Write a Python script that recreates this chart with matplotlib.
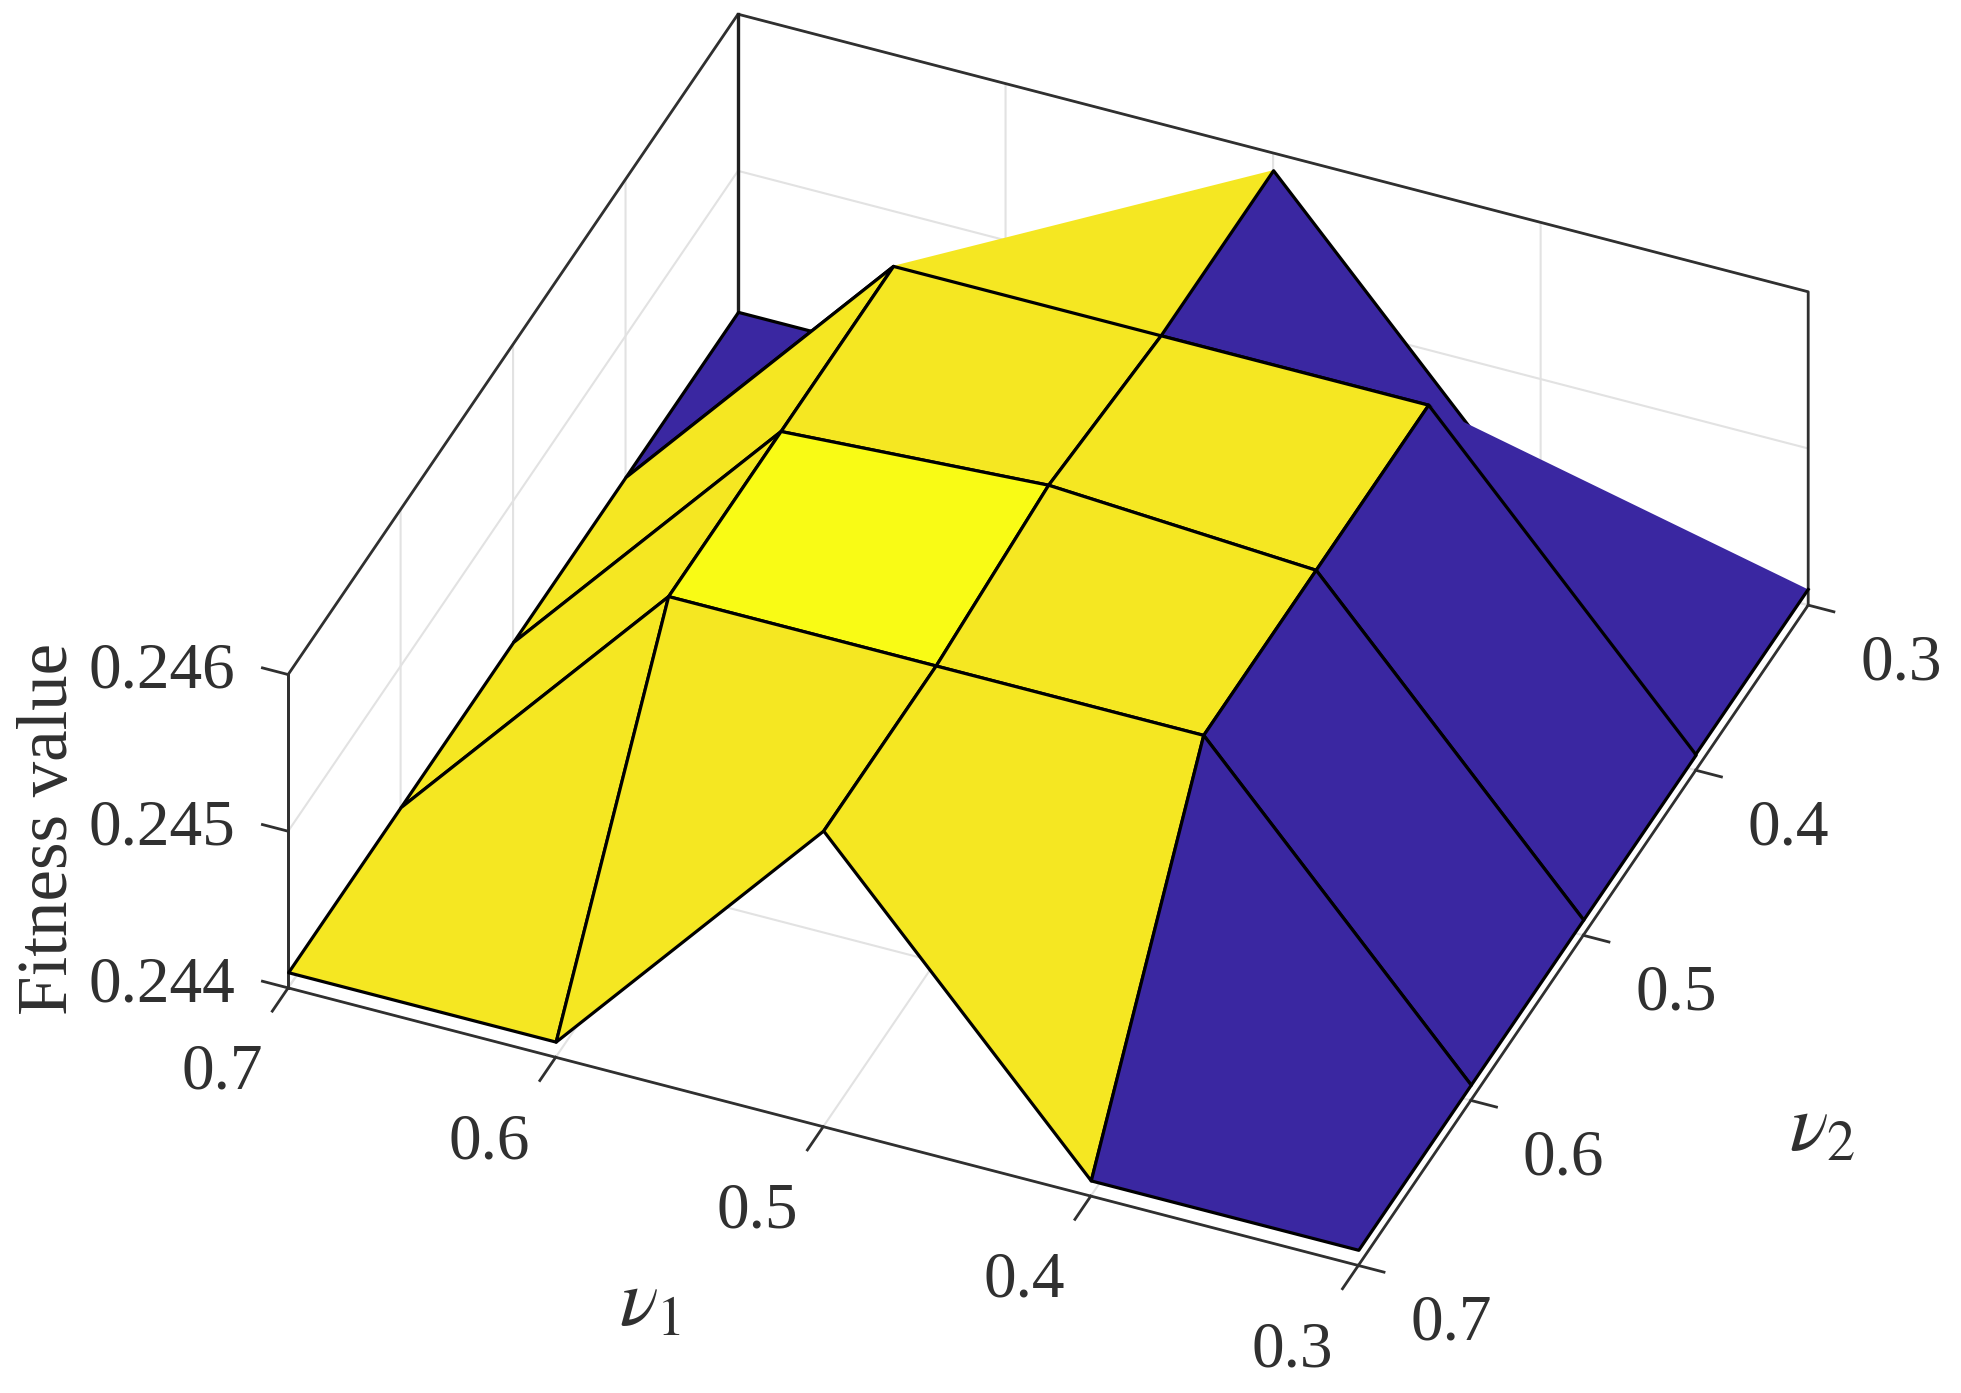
import matplotlib
matplotlib.use('Agg')
import numpy as np
import matplotlib.pyplot as plt
from matplotlib.colors import LinearSegmentedColormap, Normalize
from mpl_toolkits.mplot3d import Axes3D
from mpl_toolkits.mplot3d.art3d import Poly3DCollection

nu1 = [0.3, 0.4, 0.5, 0.6, 0.7]
nu2 = [0.3, 0.4, 0.5, 0.6, 0.7]

# one row per nu2 value, columns follow nu1
fitness_nu2_03 = [0.24410, 0.24410, 0.24589, 0.24410, 0.24410]
fitness_nu2_04 = [0.24410, 0.24589, 0.24589, 0.24589, 0.24410]
fitness_nu2_05 = [0.24410, 0.24589, 0.24599, 0.24589, 0.24410]
fitness_nu2_06 = [0.24410, 0.24589, 0.24589, 0.24589, 0.24410]
fitness_nu2_07 = [0.24410, 0.24410, 0.24589, 0.24410, 0.24410]
fitness = [fitness_nu2_03, fitness_nu2_04, fitness_nu2_05, fitness_nu2_06, fitness_nu2_07]

nu_ticks = [0.3, 0.4, 0.5, 0.6, 0.7]
nu_ticklabels = ['0.3', '0.4', '0.5', '0.6', '0.7']
fit_ticks = [0.244, 0.245, 0.246]
fit_ticklabels = ['0.244', '0.245', '0.246']

plt.rcParams['font.family'] = ['Liberation Serif', 'DejaVu Serif']
plt.rcParams['mathtext.fontset'] = 'stix'
plt.rcParams['axes.linewidth'] = 2.0
plt.rcParams['axes.edgecolor'] = '#303030'
plt.rcParams['grid.color'] = '#e2e2e2'
plt.rcParams['grid.linewidth'] = 1.5
plt.rcParams['xtick.major.width'] = 2.0
plt.rcParams['ytick.major.width'] = 2.0
plt.rcParams['xtick.color'] = '#303030'
plt.rcParams['ytick.color'] = '#303030'

W, H = 1961, 1393
fig = plt.figure(figsize=(W / 100, H / 100), dpi=100)
S = 1640
ax = fig.add_axes([206 / W, -89 / H, S / W, S / H], projection='3d', computed_zorder=False)
ax.set_proj_type('ortho')
ax.view_init(elev=38.1, azim=112.8)
ax.set_box_aspect((1, 1, 0.343))
ax.patch.set_alpha(0)

parula = LinearSegmentedColormap.from_list('parula_like', [
    (0.0, '#3a27a1'), (0.25, '#2a7fde'), (0.5, '#1ab5a8'),
    (0.75, '#a9bf3a'), (0.947, '#f5e623'), (1.0, '#f9fb15')])
norm = Normalize(vmin=min(min(r) for r in fitness), vmax=max(max(r) for r in fitness))

ax.set_xlim(0.3, 0.7)
ax.set_ylim(0.3, 0.7)
ax.set_zlim(0.244, 0.246)

# box on the back walls, the grid at the limits would paint over the pane edges
x0, x1 = ax.get_xlim()
y0, y1 = ax.get_ylim()
z0, z1 = ax.get_zlim()
ax.plot([x1, x1, x0, x0], [y1, y0, y0, y0], [z1, z1, z1, z0], color='#303030', lw=2.0, zorder=1)
ax.plot([x1, x1], [y0, y0], [z0, z1], color='#202020', lw=2.4, zorder=1)
ax.plot([x1, x1], [y1, y1], [z0, z1], color='#303030', lw=2.0, zorder=1)

# back to front, colour comes from the corner with lowest nu1 and nu2 (flat shading)
for b in range(len(nu2) - 1):
    for a in range(len(nu1) - 2, -1, -1):
        corners = [(a, b), (a, b + 1), (a + 1, b + 1), (a + 1, b)]
        edge = 'black'
        # these two cells are folded so only one triangle shows, without outline
        if b == 0 and a in (0, 2):
            corners = [(a, b), (a, b + 1), (a + 1, b + 1)]
            edge = 'none'
        verts = [(nu1[i], nu2[j], fitness[j][i]) for i, j in corners]
        poly = Poly3DCollection([verts], facecolors=[parula(norm(fitness[b][a]))],
                                edgecolors=edge, linewidths=2.3, zorder=5)
        ax.add_collection3d(poly)

# outline along the nu1=0.3 side of the back triangle
ax.plot([nu1[0], nu1[0]], [nu2[0], nu2[1]], [fitness[0][0], fitness[1][0]],
        color='black', lw=2.3, zorder=6)

ax.set_xlim(x0, x1)
ax.set_ylim(y0, y1)
ax.set_zlim(z0, z1)
ax.set_xticks(nu_ticks)
ax.set_xticklabels(nu_ticklabels)
ax.set_yticks(nu_ticks)
ax.set_yticklabels(nu_ticklabels)
ax.set_zticks(fit_ticks)
ax.set_zticklabels(fit_ticklabels)
ax.zaxis.set_ticks_position('upper')
ax.zaxis._get_tickdir = lambda pos: 0
ax.tick_params(axis='x', labelsize=47, pad=27, colors='#303030')
ax.tick_params(axis='y', labelsize=47, pad=22, colors='#303030')
ax.tick_params(axis='z', labelsize=47, pad=13.3, colors='#303030')
plt.setp(ax.get_xticklabels(), ha='right')
plt.setp(ax.get_yticklabels(), ha='left')
plt.setp(ax.get_zticklabels(), ha='right', va='baseline')

for axis in (ax.xaxis, ax.yaxis, ax.zaxis):
    axis.set_pane_color((1, 1, 1, 1))
ax.xaxis._axinfo['tick']['inward_factor'] = 0.44
ax.xaxis._axinfo['tick']['outward_factor'] = 0.0
ax.yaxis._axinfo['tick']['inward_factor'] = 0.30
ax.yaxis._axinfo['tick']['outward_factor'] = 0.0
ax.zaxis._axinfo['tick']['inward_factor'] = 0.0
ax.zaxis._axinfo['tick']['outward_factor'] = 0.30

fig.text(650 / W, 1 - 1306 / H, r'$\nu_1$', fontsize=58, ha='center', va='center', color='#303030')
fig.text(1822 / W, 1 - 1131 / H, r'$\nu_2$', fontsize=58, ha='center', va='center', color='#303030')
fig.text(50 / W, 1 - 829 / H, 'Fitness value', fontsize=51, rotation=90, ha='center', va='center', color='#303030')

fig.savefig('out.png', dpi=100)
